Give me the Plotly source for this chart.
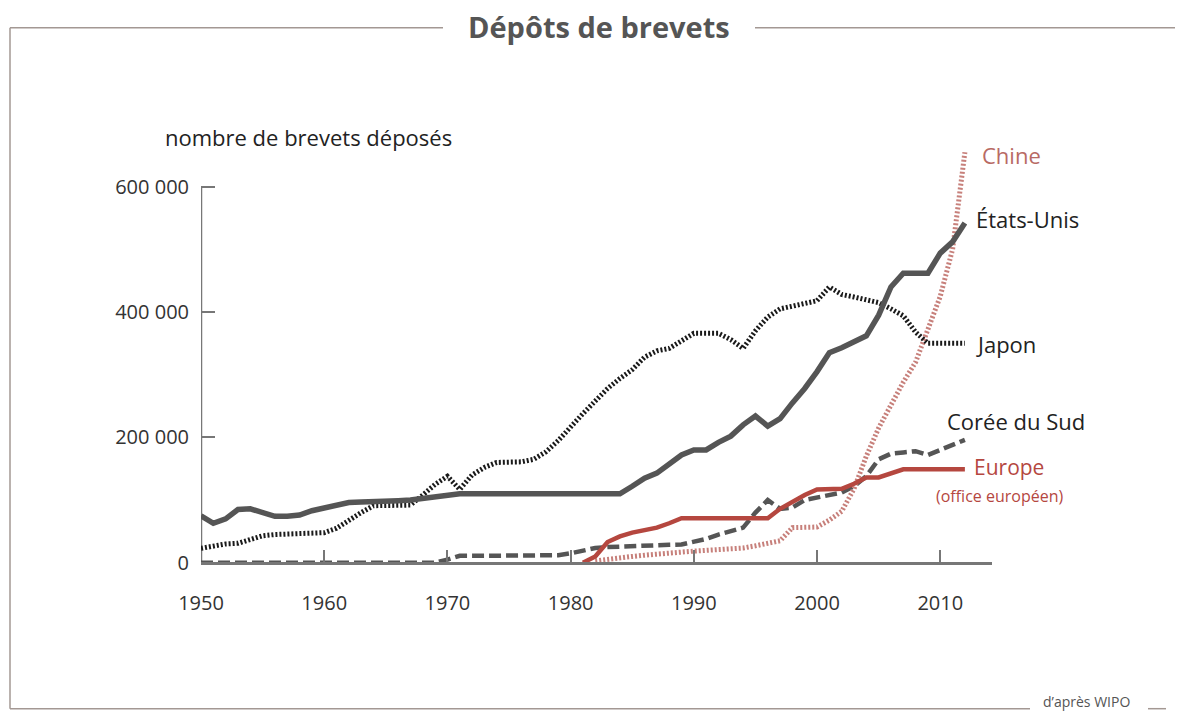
import plotly.graph_objects as go

# ---------------- data ----------------
years = list(range(1950, 2013))

usa = [75000, 63000, 70000, 85000, 86000, 80000, 74000, 74000, 76000, 83000,
       88000, 93000, 96000, 97000, 97000, 98000, 99000, 100000, 103000, 106000,
       108000, 110000, 110000, 110000, 110000, 110000, 110000, 110000, 110000, 110000,
       110000, 110000, 110000, 110000, 110000, 122000, 135000, 143000, 158000, 172000,
       180000, 180000, 192000, 202000, 220000, 234000, 218000, 230000, 255000, 278000,
       305000, 335000, 343000, 352000, 362000, 395000, 440000, 462000, 462000, 462000,
       494000, 512000, 542000]

japan = [23000, 27000, 30000, 31000, 38000, 43000, 45000, 46000, 46000, 47000,
         48000, 55000, 68000, 80000, 91000, 91000, 91000, 92000, 108000, 125000,
         138000, 117000, 140000, 152000, 160000, 161000, 161000, 165000, 177000, 195000,
         218000, 238000, 258000, 278000, 294000, 308000, 328000, 338000, 342000, 355000,
         366000, 366000, 366000, 356000, 342000, 370000, 392000, 405000, 410000, 414000,
         418000, 440000, 428000, 424000, 420000, 415000, 405000, 394000, 368000, 350000,
         350000, 350000, 350000]

korea = [0] * 20 + [
         5000, 11000, 11000, 11000, 11000, 11000, 11000, 11500, 12000, 12000,
         15000, 20000, 23500, 25000, 26000, 27000, 27500, 28000, 28500, 29000,
         33000, 38000, 45000, 50000, 56000, 80000, 100000, 86000, 88000, 100000,
         104000, 108000, 112000, 122000, 138000, 165000, 174000, 176000, 178000, 172000,
         180000, 188000, 196000]

europe_years = list(range(1981, 2013))
europe = [0, 10000, 33000, 42000, 48000, 52000, 56000, 63000, 71000,
          71000, 71000, 71000, 71000, 71000, 71000, 71000, 86000, 98000, 108000,
          117000, 118000, 118000, 126000, 136000, 136000, 142000, 149000, 149000, 149000,
          149000, 149000, 149000]

china_years = list(range(1982, 2013))
china = [3000, 6000, 8000, 10000, 12000, 13000, 15000, 17000,
         18500, 19500, 20500, 22000, 23500, 27000, 31000, 35000, 56000, 56000,
         57000, 68000, 82000, 118000, 170000, 215000, 252000, 288000, 320000, 372000,
         425000, 500000, 655000]

y_ticks = [0, 200000, 400000, 600000]
x_ticks = [1950, 1960, 1970, 1980, 1990, 2000, 2010]

# ---------------- layout geometry (page pixels; page body has an 8px margin) ----------------
OFF = 8
W, H = 1183 - 2 * OFF, 719 - 2 * OFF
L, R, T, B = 201, 992, 124.3, 569.3          # plot area, page coordinates
Y_MIN, Y_MAX = -10000, 700000
X_MIN, X_MAX = 1950, 2014.2

def px(xp):
    return (xp - L) / (R - L)

def py(yp):
    return (B - yp) / (B - T)

FONT = "Open Sans"
DARK = "#555555"
RED = "#b5473f"
PINK = "#c7807b"
AXIS = "#777777"
FRAME = "#a39893"
TXT = "#222222"

fig = go.Figure()

fig.add_trace(go.Scatter(x=years, y=korea, mode="lines", name="Corée du Sud",
                         line=dict(color="#555555", width=4.5, dash="12px,5px")))
fig.add_trace(go.Scatter(x=china_years, y=china, mode="lines", name="Chine",
                         line=dict(color=PINK, width=5, dash="2px,2px")))
fig.add_trace(go.Scatter(x=europe_years, y=europe, mode="lines", name="Europe",
                         line=dict(color=RED, width=4.5)))
fig.add_trace(go.Scatter(x=years, y=japan, mode="lines", name="Japon",
                         line=dict(color="#1a1a1a", width=5, dash="2px,2px")))
fig.add_trace(go.Scatter(x=years, y=usa, mode="lines", name="États-Unis",
                         line=dict(color="#555555", width=5.5)))

def lab(text, x, y, color, size=22):
    return dict(text=text, x=x, y=y, xref="x", yref="y", xanchor="left", yanchor="middle",
                showarrow=False, font=dict(family=FONT, size=size, color=color))

annotations = [
    lab("Chine", 2013.2, 651000, "#b86a64"),
    lab("États-Unis", 2012.7, 549000, TXT),
    lab("Japon", 2012.7, 349500, TXT),
    lab("Corée du Sud", 2010.4, 226600, TXT),
    lab("Europe", 2012.6, 152000, RED, 21),
    lab("(office européen)", 2009.5, 106000, RED, 16),
    dict(text="nombre de brevets déposés", x=px(163), y=py(137), xref="paper", yref="paper",
         xanchor="left", yanchor="middle", showarrow=False,
         font=dict(family=FONT, size=22, color=TXT)),
    dict(text="<b>Dépôts de brevets</b>", x=px(599), y=py(27), xref="paper", yref="paper",
         xanchor="center", yanchor="middle", showarrow=False,
         font=dict(family=FONT, size=29, color=DARK)),
    dict(text="d’après WIPO", x=px(1086), y=py(702), xref="paper", yref="paper",
         xanchor="center", yanchor="middle", showarrow=False,
         font=dict(family=FONT, size=14, color=DARK)),
]

frame_line = dict(color=FRAME, width=1.5)
FB = 709  # bottom frame line (page y)
shapes = [
    dict(type="line", xref="paper", yref="paper", x0=px(10), x1=px(443), y0=py(28), y1=py(28), line=frame_line),
    dict(type="line", xref="paper", yref="paper", x0=px(755), x1=px(1183), y0=py(28), y1=py(28), line=frame_line),
    dict(type="line", xref="paper", yref="paper", x0=px(10), x1=px(10), y0=py(28), y1=py(FB), line=frame_line),
    dict(type="line", xref="paper", yref="paper", x0=px(10), x1=px(1030), y0=py(FB), y1=py(FB), line=frame_line),
    dict(type="line", xref="paper", yref="paper", x0=px(1148), x1=px(1166), y0=py(FB), y1=py(FB), line=frame_line),
    # y axis line, only up to the top tick
    dict(type="line", xref="x", yref="y", x0=X_MIN, x1=X_MIN, y0=0, y1=y_ticks[-1],
         line=dict(color=AXIS, width=2.5), layer="below"),
]

ml, mt = L - OFF, T - OFF
fig.update_layout(
    width=W, height=H,
    margin=dict(l=ml, r=W - ml - (R - L), t=mt, b=H - mt - (B - T), pad=0),
    paper_bgcolor="white", plot_bgcolor="white",
    showlegend=False,
    separators=", ",
    font=dict(family=FONT, size=18, color="#333333"),
    annotations=annotations,
    shapes=shapes,
    xaxis=dict(range=[X_MIN, X_MAX], tickvals=x_ticks, ticks="inside", ticklen=12,
               tickwidth=2, tickcolor=AXIS, showline=True, linecolor=AXIS, linewidth=2.5,
               showgrid=False, zeroline=False, anchor="free",
               position=(0 - Y_MIN) / (Y_MAX - Y_MIN),
               tickfont=dict(family=FONT, size=20, color="#333333"), ticklabelstandoff=22),
    yaxis=dict(range=[Y_MIN, Y_MAX], tickvals=y_ticks, tickformat=",d", ticks="inside",
               ticklen=14, tickwidth=2, tickcolor=AXIS, showline=False, showgrid=False,
               zeroline=False, tickfont=dict(family=FONT, size=20, color="#333333"),
               ticklabelstandoff=11),
)

fig.write_html("out.html")
